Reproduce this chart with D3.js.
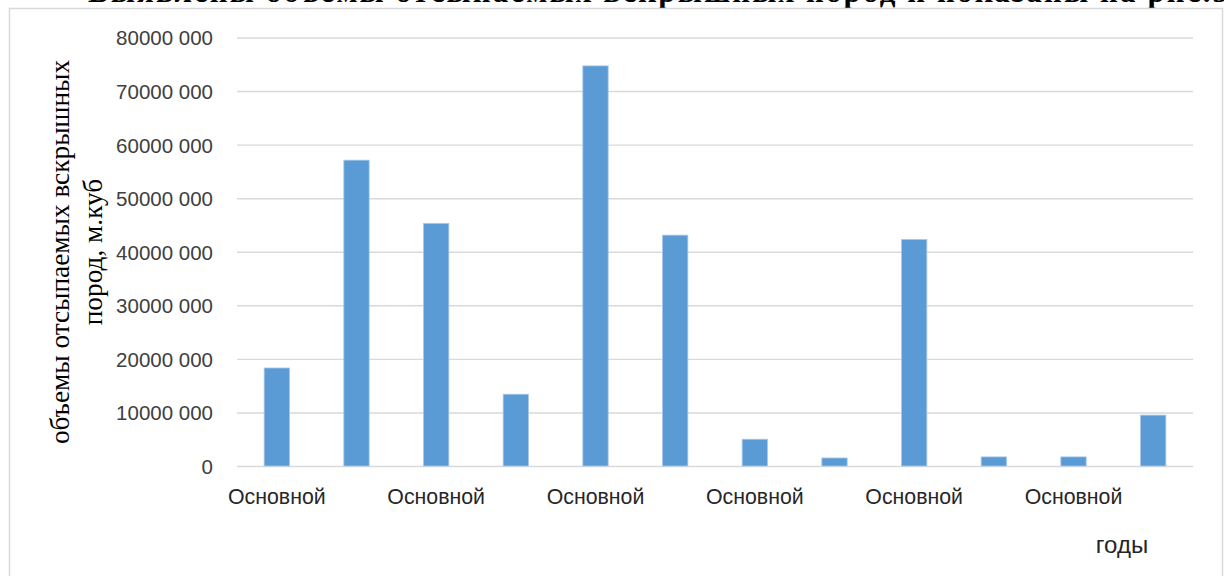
<!DOCTYPE html>
<html lang="ru">
<head>
<meta charset="utf-8">
<script src="https://cdn.jsdelivr.net/npm/d3@7"></script>
<style>
  html, body { margin: 0; padding: 0; background: #ffffff; }
  svg { display: block; }
</style>
</head>
<body>
<svg id="chart" width="1224" height="576"></svg>
<script>
// Объемы отсыпаемых вскрышных пород по отвалам
const categories = ["Основной", "Основной", "Основной", "Основной", "Основной", "Основной",
                    "Основной", "Основной", "Основной", "Основной", "Основной", "Основной"];
const volumes = [18300000, 57100000, 45300000, 13400000, 74700000, 43100000,
                 5000000, 1500000, 42300000, 1700000, 1700000, 9500000];
const yTicks = [0, 10000000, 20000000, 30000000, 40000000, 50000000, 60000000, 70000000, 80000000];
const yTickLabels = ["0", "10000 000", "20000 000", "30000 000", "40000 000",
                     "50000 000", "60000 000", "70000 000", "80000 000"];
const headingText = "Выявлены объемы отсыпаемых вскрышных пород и показаны на рис.5";
const yTitleLines = ["объемы отсыпаемых вскрышных", "пород, м.куб"];
const xTitle = "годы";

const svg = d3.select("#chart");
const plot = { left: 237, right: 1193, top: 37.5, bottom: 466 };

// Heading line of the surrounding document text
svg.append("text")
  .attr("x", 88)
  .attr("y", 2)
  .attr("font-family", "'Liberation Serif', 'Times New Roman', serif")
  .attr("font-weight", "bold")
  .attr("font-size", 31)
  .attr("textLength", 1140)
  .attr("lengthAdjust", "spacing")
  .attr("fill", "#000")
  .text(headingText);

// Chart frame
svg.append("rect")
  .attr("x", 9.5).attr("y", 8.5)
  .attr("width", 1213).attr("height", 600)
  .attr("fill", "#ffffff")
  .attr("stroke", "#d9d9d9")
  .attr("stroke-width", 1.5);

const x = d3.scaleBand()
  .domain(d3.range(categories.length))
  .range([plot.left, plot.right])
  .paddingInner(0.682)
  .paddingOuter(0.341);

const y = d3.scaleLinear()
  .domain([0, 80000000])
  .range([plot.bottom, plot.top]);

// Horizontal gridlines and value labels
const yAxis = d3.axisLeft(y)
  .tickValues(yTicks)
  .tickSize(-(plot.right - plot.left))
  .tickPadding(24)
  .tickFormat((d, i) => yTickLabels[i]);

const gy = svg.append("g")
  .attr("transform", `translate(${plot.left},0)`)
  .call(yAxis);
gy.select(".domain").remove();
gy.selectAll(".tick line")
  .attr("stroke", "#d9d9d9")
  .attr("stroke-width", 1.4);
gy.selectAll(".tick text")
  .attr("font-family", "'Liberation Sans', Arial, sans-serif")
  .attr("font-size", 20.5)
  .attr("fill", "#404040")
  .attr("dy", "0.36em");

// Bars
svg.append("g")
  .selectAll("rect")
  .data(volumes)
  .join("rect")
  .attr("x", (d, i) => x(i))
  .attr("y", d => y(d))
  .attr("width", x.bandwidth())
  .attr("height", d => y(0) - y(d))
  .attr("fill", "#5b9bd5")
  .attr("stroke", "#a8c9ea")
  .attr("stroke-width", 0.8);

// Category labels (every other one shown)
const xAxis = d3.axisBottom(x)
  .tickValues(d3.range(0, categories.length, 2))
  .tickSize(0)
  .tickPadding(23)
  .tickFormat(i => categories[i]);

const gx = svg.append("g")
  .attr("transform", `translate(0,${plot.bottom})`)
  .call(xAxis);
gx.select(".domain").remove();
gx.selectAll(".tick text")
  .attr("font-family", "'Liberation Sans', Arial, sans-serif")
  .attr("font-size", 21.3)
  .attr("fill", "#262626");

// Axis titles
const yTitle = svg.append("text")
  .attr("transform", "translate(69,252) rotate(-90)")
  .attr("text-anchor", "middle")
  .attr("font-family", "'Liberation Serif', 'Times New Roman', serif")
  .attr("font-size", 27.3)
  .attr("fill", "#000");
yTitle.selectAll("tspan")
  .data(yTitleLines)
  .join("tspan")
  .attr("x", 0)
  .attr("dy", (d, i) => i === 0 ? 0 : "1.2em")
  .text(d => d);

svg.append("text")
  .attr("x", 1122)
  .attr("y", 553)
  .attr("text-anchor", "middle")
  .attr("font-family", "'Liberation Sans', Arial, sans-serif")
  .attr("font-size", 24)
  .attr("fill", "#262626")
  .text(xTitle);
</script>
</body>
</html>
